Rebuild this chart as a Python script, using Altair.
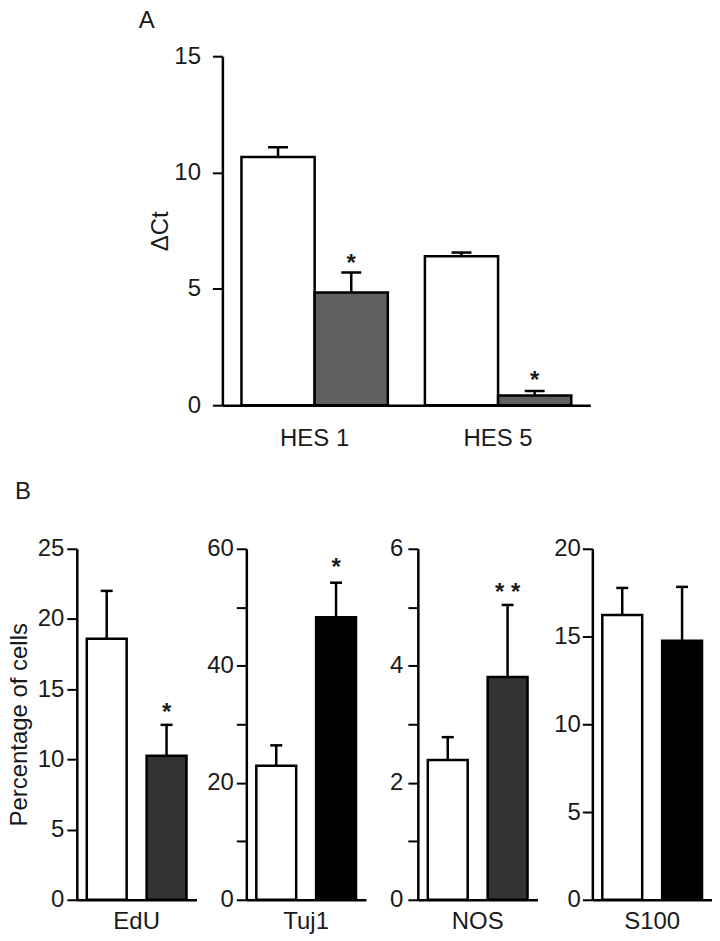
import altair as alt
import pandas as pd

FONT = "Liberation Sans"
TXT = "#1a1a1a"

groups = ["Control", "Treated"]

# ---- Panel A data (delta Ct) ----
a_genes = ["HES 1", "HES 5"]
a_ctrl = [10.67, 6.40]
a_ctrl_err = [0.42, 0.16]
a_trt = [4.84, 0.42]
a_trt_err = [0.86, 0.19]
a_star = ["*", "*"]
a_star_y = [6.32, 1.30]
a_colors = ["#ffffff", "#606060"]
a_ticks = [0, 5, 10, 15]

# ---- Panel B data (percentage of cells) ----
b_markers = ["EdU", "Tuj1", "NOS", "S100"]
b_ctrl = [18.6, 22.9, 2.39, 16.23]
b_ctrl_err = [3.4, 3.5, 0.39, 1.54]
b_trt = [10.26, 48.3, 3.81, 14.76]
b_trt_err = [2.2, 5.9, 1.23, 3.07]
b_star = ["*", "*", "* *", ""]
b_star_y = [13.72, 57.66, 5.34, 0.0]
b_ymax = [25, 60, 6, 20]
b_ticks = [
    [0, 5, 10, 15, 20, 25],
    [0, 10, 20, 30, 40, 50, 60],
    [0, 1, 2, 3, 4, 5, 6],
    [0, 5, 10, 15, 20],
]
b_label_every = [5, 20, 2, 5]
b_trt_color = ["#333333", "#000000", "#333333", "#000000"]


def make_df(cats, ctrl, ctrl_err, trt, trt_err, star, star_y):
    rows = []
    for i, c in enumerate(cats):
        rows.append(dict(cat=c, group=groups[0], value=ctrl[i],
                         upper=ctrl[i] + ctrl_err[i], star="", star_y=0.0))
        rows.append(dict(cat=c, group=groups[1], value=trt[i],
                         upper=trt[i] + trt_err[i], star=star[i], star_y=star_y[i]))
    return pd.DataFrame(rows)


def panel(df, cats, ymax, y_axis, colors, width, height, x_scale, xo_scale,
          cap, x_label_pad):
    x = alt.X("cat:N", sort=cats, scale=x_scale,
              axis=alt.Axis(title=None, ticks=False, labelAngle=0,
                            labelPadding=x_label_pad))
    xo = alt.XOffset("group:N", sort=groups, scale=xo_scale)
    ys = alt.Scale(domain=[0, ymax], nice=False, zero=True)
    base = alt.Chart(df)
    bars = base.mark_bar(stroke="black", strokeWidth=2.5).encode(
        x=x, xOffset=xo,
        y=alt.Y("value:Q", scale=ys, axis=y_axis),
        fill=alt.Fill("group:N", scale=alt.Scale(domain=groups, range=colors),
                      legend=None),
    )
    err = base.mark_rule(color="black", strokeWidth=2.5).encode(
        x=x, xOffset=xo,
        y=alt.Y("value:Q", scale=ys, axis=y_axis),
        y2="upper:Q",
    )
    caps = base.mark_tick(color="black", thickness=2.5, size=cap, opacity=1).encode(
        x=x, xOffset=xo,
        y=alt.Y("upper:Q", scale=ys, axis=y_axis),
    )
    stars = base.transform_filter("datum.star != ''").mark_text(
        font=FONT, fontSize=24, fontWeight="bold", color=TXT,
        baseline="alphabetic", dy=13,
    ).encode(
        x=x, xOffset=xo,
        y=alt.Y("star_y:Q", scale=ys, axis=y_axis),
        text="star:N",
    )
    return alt.layer(bars, err, caps, stars).properties(width=width, height=height)


RES = dict(xOffset="independent", fill="independent", x="independent",
           y="independent")

# ---- Panel A ----
dfA = make_df(a_genes, a_ctrl, a_ctrl_err, a_trt, a_trt_err, a_star, a_star_y)
axisA = alt.Axis(values=a_ticks, title="ΔCt", labelPadding=12, titlePadding=0,
                 minExtent=50, maxExtent=50)
panelA = panel(
    dfA, a_genes, 15, axisA, a_colors, 369, 350,
    alt.Scale(paddingInner=0.202, paddingOuter=0.104),
    alt.Scale(paddingInner=0, paddingOuter=0),
    20, 21,
)

SPACER_W = 72
spacer = alt.Chart(pd.DataFrame({"s": [0]})).mark_rect(color="white").encode(
    x=alt.value(0), x2=alt.value(SPACER_W), y=alt.value(0), y2=alt.value(2)
).properties(width=SPACER_W, height=2)

top = alt.hconcat(spacer, panelA, spacing=0).resolve_scale(**RES).properties(
    title=alt.TitleParams("A", anchor="start", frame="bounds", dx=62, offset=11,
                          font=FONT, fontSize=24, fontWeight="normal", color=TXT)
)

# ---- Panel B ----
extents = [41, 50, 52, 55]
lpads = [3, 3, 5, 2]
panelsB = []
for i, m in enumerate(b_markers):
    dfi = make_df([m], [b_ctrl[i]], [b_ctrl_err[i]], [b_trt[i]], [b_trt_err[i]],
                  [b_star[i]], [b_star_y[i]])
    kw = dict(values=b_ticks[i], labelPadding=lpads[i], minExtent=extents[i],
              maxExtent=extents[i],
              labelExpr=f"datum.value % {b_label_every[i]} == 0 ? datum.label : ''")
    if i == 0:
        kw.update(title="Percentage of cells", titlePadding=4)
    else:
        kw.update(title=None)
    panelsB.append(panel(
        dfi, [m], b_ymax[i], alt.Axis(**kw), ["#ffffff", b_trt_color[i]],
        120, 352,
        alt.Scale(paddingInner=0, paddingOuter=0),
        alt.Scale(paddingInner=1 / 3, paddingOuter=1 / 6),
        12, 10,
    ))

bottom = alt.hconcat(*panelsB, spacing=0).resolve_scale(**RES).properties(
    title=alt.TitleParams("B", anchor="start", frame="bounds", dx=7, offset=33,
                          font=FONT, fontSize=24, fontWeight="normal", color=TXT)
)

chart = alt.vconcat(top, bottom, spacing=30).resolve_scale(**RES).properties(
    padding=0
).configure_view(
    stroke=None
).configure_axis(
    domainColor="black", domainWidth=2.5, tickColor="black", tickWidth=2,
    tickSize=10, grid=False, labelFont=FONT, labelFontSize=24, labelColor=TXT,
    titleFont=FONT, titleFontSize=24, titleFontWeight="normal", titleColor=TXT,
)

chart.save("out.html", embed_options={"renderer": "svg", "actions": False})
